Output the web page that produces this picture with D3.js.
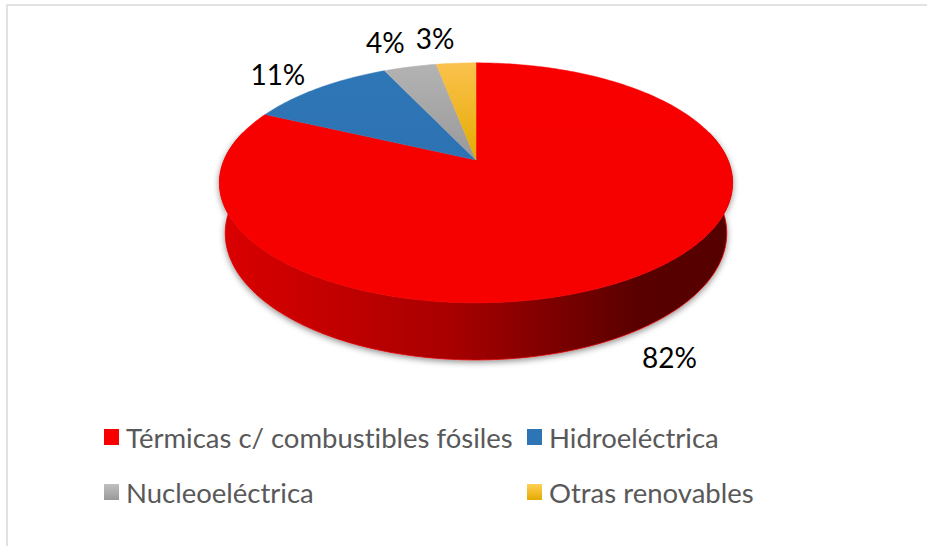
<!DOCTYPE html>
<html>
<head>
<meta charset="utf-8">
<script src="https://cdn.jsdelivr.net/npm/d3@7/dist/d3.min.js"></script>
<style>
    html, body { margin: 0; padding: 0; background: #fff; }
    svg { display: block; }
    text { font-variant-ligatures: none; font-feature-settings: 'liga' 0, 'clig' 0; }
</style>
</head>
<body>
<div id="chart"></div>
<script>
'use strict';

// data
var categories = ['Térmicas c/ combustibles fósiles', 'Hidroeléctrica', 'Nucleoeléctrica', 'Otras renovables'];
var shares = [82, 11, 4, 3];
var labels = ['82%', '11%', '4%', '3%'];
var colors = ['#f80000', '#2e75b6', '#a5a5a5', '#ffc000'];
var topLight = ['#f80000', '#2f76b7', '#b3b3b3', '#fbc24e'];
var topDark = ['#f60000', '#2d73b3', '#999999', '#e4aa00'];

var width = 927,
    height = 546;

// 3d view of the disc (radius = 1, thickness in radius units)
var view = {
    cx: 476,
    cy: 160,
    focal: 1177,
    rd: 0.214,
    sinE: 0.459,
    cosE: 0.888,
    thick: 0.227
};

var svg, defs, gPie, gLabels, gLegend;

function project(theta, r, level){
    var X = view.rd * r * Math.sin(theta),
        Y = -view.rd * view.thick * level,
        Z = -view.rd * r * Math.cos(theta);
    var yv = Y * view.cosE - Z * view.sinE,
        zv = Y * view.sinE + Z * view.cosE,
        w = 1 - zv;
    return [view.cx + view.focal * X / w, view.cy - view.focal * yv / w];
}

function sample(a0, a1, r, level){
    var n = Math.max(2, Math.ceil((a1 - a0) / (Math.PI / 180))),
        pts = [];
    for (var i = 0; i <= n; i++) {
        pts.push(project(a0 + (a1 - a0) * i / n, r, level));
    }
    return pts;
}

function setup(){
    svg = d3.select('#chart').append('svg')
        .attr('width', width)
        .attr('height', height);
    defs = svg.append('defs');

    svg.append('rect')
        .attr('width', width)
        .attr('height', height)
        .style('fill', '#fff');
    svg.append('rect')
        .attr('x', 7)
        .attr('y', 5)
        .attr('width', width + 20)
        .attr('height', height + 20)
        .style('fill', 'none')
        .style('stroke', '#d9d9d9')
        .style('stroke-width', 1.5);

    var shadow = defs.append('filter')
        .attr('id', 'shadow')
        .attr('x', '-10%').attr('y', '-10%')
        .attr('width', '120%').attr('height', '130%');
    shadow.append('feDropShadow')
        .attr('dx', 0)
        .attr('dy', 2)
        .attr('stdDeviation', 3)
        .attr('flood-color', '#000')
        .attr('flood-opacity', 0.45);

    gPie = svg.append('g');
    gLabels = svg.append('g');
    gLegend = svg.append('g');
    draw();
}

function draw(){
    var arcs = d3.pie().sort(null).value(function(d){ return d; })(shares);
    var line = d3.line();
    var front0 = Math.PI / 2 - 0.25,
        front1 = 3 * Math.PI / 2 + 0.25;

    // gradients
    arcs.forEach(function(a, i){
        var base = d3.color(colors[i]);
        var side = defs.append('linearGradient')
            .attr('id', 'side' + i)
            .attr('x1', 0).attr('x2', 1).attr('y1', 0).attr('y2', 0);
        [[0, 0.35], [0.45, 1.1], [0.82, 2.9], [1, 3.0]].forEach(function(s){
            side.append('stop').attr('offset', s[0]).attr('stop-color', base.darker(s[1]).formatHex());
        });
        var top = defs.append('linearGradient')
            .attr('id', 'top' + i)
            .attr('x1', 0).attr('x2', 0).attr('y1', 0).attr('y2', 1);
        top.append('stop').attr('offset', 0).attr('stop-color', topLight[i]);
        top.append('stop').attr('offset', 1).attr('stop-color', topDark[i]);
    });

    // front wall
    arcs.forEach(function(a, i){
        var lo = Math.max(a.startAngle, front0),
            hi = Math.min(a.endAngle, front1);
        if (lo >= hi) return;
        var pts = sample(lo, hi, 1, 0).concat(sample(lo, hi, 1, 1).reverse());
        gPie.append('path')
            .attr('class', 'side')
            .attr('d', line(pts) + 'Z')
            .attr('filter', 'url(#shadow)')
            .style('fill', 'url(#side' + i + ')')
            .style('stroke', '#e00000')
            .style('stroke-width', 0.8);
    });

    // top faces
    arcs.forEach(function(a, i){
        var pts = [project(0, 0, 0)].concat(sample(a.startAngle, a.endAngle, 1, 0));
        gPie.append('path')
            .attr('class', 'slice')
            .attr('d', line(pts) + 'Z')
            .style('fill', 'url(#top' + i + ')')
            .style('stroke', 'url(#top' + i + ')')
            .style('stroke-width', 0.5);
    });

    // data labels, box pushed outward from the anchor point
    var centre = project(0, 0, 0);
    arcs.forEach(function(a, i){
        var mid = (a.startAngle + a.endAngle) / 2,
            isFront = Math.cos(mid) < 0,
            p = project(mid, isFront ? 1.05 : 1.1, isFront ? 1 : 0);
        var t = gLabels.append('text')
            .attr('text-anchor', 'middle')
            .attr('dominant-baseline', 'central')
            .style('font-family', 'Lato, "Open Sans", sans-serif')
            .style('font-size', '28px')
            .style('fill', '#000')
            .text(labels[i]);
        var box = t.node().getBBox(),
            dx = p[0] - centre[0],
            dy = p[1] - centre[1],
            m = Math.max(Math.abs(dx), Math.abs(dy));
        t.attr('x', p[0] + Math.sign(dx) * box.width / 2)
            .attr('y', p[1] + dy / m * box.height / 2);
    });

    // legend
    var colX = [104, 527],
        rowY = [437, 492];
    var item = gLegend.selectAll('.item').data(categories)
        .enter().append('g')
        .attr('class', 'item')
        .attr('transform', function(d, i){
            return 'translate(' + colX[i % 2] + ',' + rowY[Math.floor(i / 2)] + ')';
        });
    categories.forEach(function(c, i){
        var g = defs.append('linearGradient')
            .attr('id', 'key' + i)
            .attr('x1', 0).attr('x2', 0).attr('y1', 0).attr('y2', 1);
        g.append('stop').attr('offset', 0).attr('stop-color', i > 1 ? d3.color(topLight[i]).brighter(0.2).formatHex() : colors[i]);
        g.append('stop').attr('offset', 1).attr('stop-color', i > 1 ? topDark[i] : colors[i]);
    });
    item.append('rect')
        .attr('x', 0)
        .attr('y', -8)
        .attr('width', 15)
        .attr('height', 16)
        .style('fill', function(d, i){ return 'url(#key' + i + ')'; });
    item.append('text')
        .attr('x', 22)
        .attr('y', 0)
        .attr('dominant-baseline', 'central')
        .style('font-family', 'Lato, "Open Sans", sans-serif')
        .style('font-size', '27.5px')
        .style('fill', '#595959')
        .text(function(d){ return d; });
}

setup();
</script>
</body>
</html>
